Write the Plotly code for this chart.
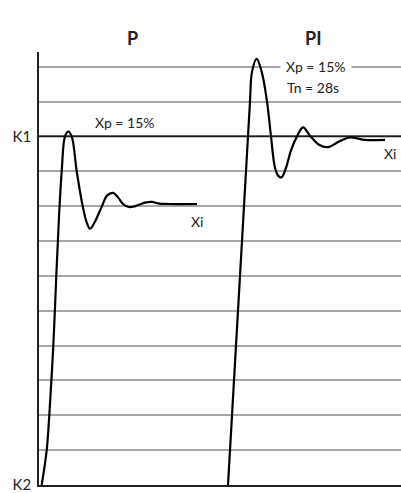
import plotly.graph_objects as go

# Time axis (arbitrary units), controlled-variable levels (K2 = 0 ... K1 = 10)
p_t = [2.7, 7.7, 10.3, 14.3, 17.3, 20, 22.7, 26, 29.3, 32.7, 37.7, 43.7, 47.5, 51, 55, 63, 68, 74, 79, 84, 89, 94, 100, 106, 113, 120, 130, 158]
p_y = [0, 1.0, 2.0, 4.0, 6.0, 7.7, 9.0, 10.0, 10.14, 10.0, 9.0, 8.0, 7.55, 7.35, 7.5, 8.0, 8.3, 8.38, 8.25, 8.06, 7.98, 7.98, 8.04, 8.1, 8.12, 8.07, 8.06, 8.06]

pi_t = [189, 195, 200, 204, 207, 209, 211, 213, 217.7, 222.7, 228, 232, 236, 239.5, 242.7, 247, 252, 258, 264, 271, 280, 289, 300, 311, 325, 346]
pi_y = [0, 3, 5.5, 7.5, 9, 10, 11, 11.85, 12.22, 11.85, 11.0, 10.0, 9.1, 8.86, 8.83, 9.1, 9.6, 10.0, 10.26, 10.02, 9.76, 9.69, 9.85, 9.97, 9.9, 9.9]

grid_levels = list(range(0, 13))
level_labels = ["K2", "", "", "", "", "", "", "", "", "", "K1", "", ""]
k1_level = 10
x_span = [0, 362]

fig = go.Figure()
fig.add_trace(go.Scatter(x=x_span, y=[k1_level, k1_level], mode="lines",
                         line=dict(color="#1a1a1a", width=1.6), hoverinfo="skip"))
fig.add_trace(go.Scatter(x=p_t, y=p_y, mode="lines", line=dict(color="black", width=2.2, shape="spline", smoothing=1)))
fig.add_trace(go.Scatter(x=pi_t, y=pi_y, mode="lines", line=dict(color="black", width=2.2, shape="spline", smoothing=1)))

font = "Lato, Open Sans, sans-serif"
ann = [
    dict(x=93, y=1.062, yref="paper", text="<b>P</b>", font=dict(size=18)),
    dict(x=274, y=1.062, yref="paper", text="<b>PI</b>", font=dict(size=18)),
    dict(x=86, y=10.4, text="Xp = 15%", font=dict(size=14)),
    dict(x=158, y=7.55, text="Xi", font=dict(size=14)),
    dict(x=241, y=12.0, text="Xp = 15%", xanchor="left", font=dict(size=14), bgcolor="white", borderpad=5),
    dict(x=246, y=11.4, text="Tn = 28s", xanchor="left", font=dict(size=14)),
    dict(x=351, y=9.52, text="Xi", font=dict(size=14)),
]
for a in ann:
    a.setdefault("yref", "y")
    a.update(xref="x", showarrow=False)
    a["font"].update(family=font, color="#222")

fig.update_layout(
    width=401, height=493, margin=dict(l=39, r=0, t=52, b=5),
    paper_bgcolor="white", plot_bgcolor="white", showlegend=False,
    annotations=ann,
    xaxis=dict(range=x_span, showgrid=False, zeroline=False, showticklabels=False,
               showline=True, linecolor="#222", linewidth=1.6),
    yaxis=dict(range=[0, 12.42], tickvals=grid_levels, ticktext=level_labels,
               showgrid=True, gridcolor="#a6a6a6", gridwidth=1.5, zeroline=False,
               showline=True, linecolor="#222", linewidth=1.5, ticks="", ticklabelstandoff=3,
               ticklabeloverflow="allow",
               tickfont=dict(family=font, size=15, color="#222")),
)
fig.write_html("out.html")
